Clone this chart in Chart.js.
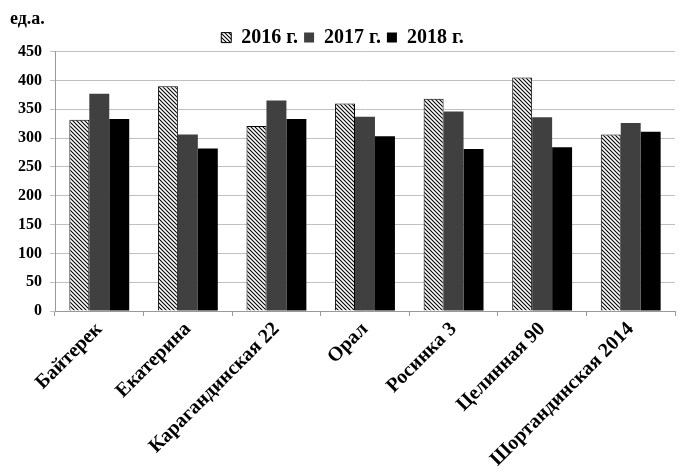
<!DOCTYPE html>
<html>
<head>
<meta charset="utf-8">
<script src="https://cdn.jsdelivr.net/npm/chart.js@4.4.0/dist/chart.umd.min.js"></script>
<style>
body { margin: 0; background: #fff; }
#wrap { width: 685px; height: 473px; }
</style>
</head>
<body>
<div id="wrap"><canvas id="chart" width="685" height="473"></canvas></div>
<script>
var sorts = ['Байтерек', 'Екатерина', 'Карагандинская 22', 'Орал', 'Росинка 3', 'Целинная 90', 'Шортандинская 2014'];
var y2016 = [332, 390, 321, 360, 368, 405, 306];
var y2017 = [377, 306, 365, 337, 346, 336, 326];
var y2018 = [333, 282, 333, 303, 281, 284, 311];
var yTicks = [0, 50, 100, 150, 200, 250, 300, 350, 400, 450];

var serif = '"Liberation Serif", "Times New Roman", serif';

// diagonal hatch for 2016
function hatch() {
    var c = document.createElement('canvas');
    c.width = 4;
    c.height = 4;
    var g = c.getContext('2d');
    g.fillStyle = '#fff';
    g.fillRect(0, 0, 4, 4);
    g.strokeStyle = '#000';
    g.lineWidth = 1.1;
    g.beginPath();
    g.moveTo(-1, -1); g.lineTo(5, 5);
    g.moveTo(-1, 3); g.lineTo(1, 5);
    g.moveTo(3, -1); g.lineTo(5, 1);
    g.stroke();
    return g.createPattern(c, 'repeat');
}

var ctx = document.getElementById('chart').getContext('2d');
var chart = new Chart(ctx, {
    type: 'bar',
    data: {
        labels: sorts,
        datasets: [{
            label: '2016 г.',
            data: y2016,
            backgroundColor: hatch(),
            borderColor: '#000',
            borderWidth: 1
        }, {
            label: '2017 г.',
            data: y2017,
            backgroundColor: '#404040',
            borderWidth: 0
        }, {
            label: '2018 г.',
            data: y2018,
            backgroundColor: '#000',
            borderWidth: 0
        }]
    },
    options: {
        responsive: false,
        animation: false,
        layout: { padding: { left: 10, right: 10, top: 9, bottom: 0 } },
        datasets: { bar: { barPercentage: 1, categoryPercentage: 0.676 } },
        plugins: {
            title: {
                display: true,
                text: 'ед.а.',
                align: 'start',
                color: '#000',
                font: { family: serif, size: 18, weight: 'bold' },
                padding: { top: 0, bottom: -9 }
            },
            legend: {
                position: 'top',
                maxHeight: 30,
                labels: {
                    color: '#000',
                    boxWidth: 10,
                    boxHeight: 10,
                    padding: 6,
                    font: { family: serif, size: 20, weight: 'bold' }
                }
            },
            tooltip: { enabled: false }
        },
        scales: {
            x: {
                grid: { offset: true, drawOnChartArea: false, tickLength: 5, color: '#999' },
                border: { color: '#999' },
                ticks: {
                    color: '#000',
                    minRotation: 45,
                    maxRotation: 45,
                    font: { family: serif, size: 20, weight: 'bold', lineHeight: 1 }
                }
            },
            y: {
                min: 0,
                max: 450,
                afterBuildTicks: function (axis) {
                    axis.ticks = yTicks.map(function (v) { return { value: v }; });
                },
                grid: { color: '#c0c0c0', tickLength: 5 },
                border: { color: '#999' },
                ticks: {
                    color: '#000',
                    padding: 8,
                    font: { family: serif, size: 16, weight: 'bold' }
                }
            }
        }
    }
});
</script>
</body>
</html>
